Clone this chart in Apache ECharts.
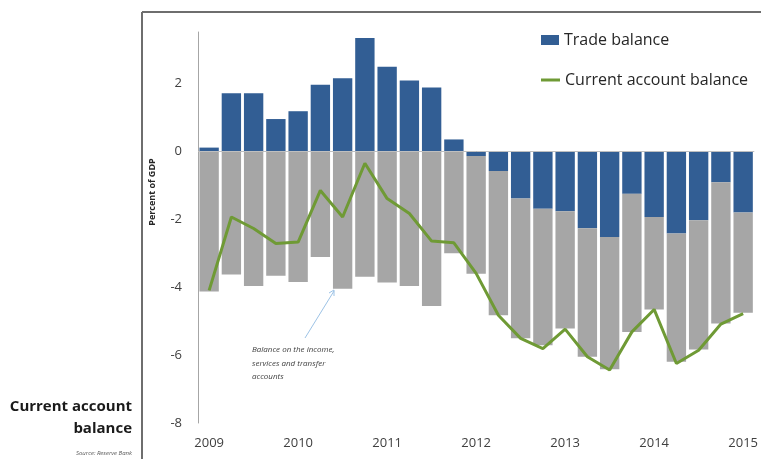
<!DOCTYPE html>
<html>
<head>
<meta charset="utf-8">
<script src="https://cdn.jsdelivr.net/npm/echarts@6/dist/echarts.min.js"></script>
<style>
  html, body { margin: 0; padding: 0; background: #fff; }
  #chart { width: 761px; height: 459px; }
</style>
</head>
<body>
<div id="chart"></div>
<script>
// quarters, 2009 Q1 .. 2015 Q1
const quarters = [
  "2009 Q1", "2009 Q2", "2009 Q3", "2009 Q4",
  "2010 Q1", "2010 Q2", "2010 Q3", "2010 Q4",
  "2011 Q1", "2011 Q2", "2011 Q3", "2011 Q4",
  "2012 Q1", "2012 Q2", "2012 Q3", "2012 Q4",
  "2013 Q1", "2013 Q2", "2013 Q3", "2013 Q4",
  "2014 Q1", "2014 Q2", "2014 Q3", "2014 Q4",
  "2015 Q1",
];

// percent of GDP
const tradeBalance = [
  0.1, 1.7, 1.7, 0.94, 1.17, 1.95, 2.14, 3.32, 2.48, 2.07, 1.87, 0.34,
  -0.15, -0.59, -1.4, -1.7, -1.77, -2.27, -2.53, -1.26, -1.94, -2.43, -2.04, -0.92, -1.81,
];

const incomeServicesTransfers = [
  -4.13, -3.63, -3.97, -3.67, -3.85, -3.12, -4.05, -3.7, -3.87, -3.97, -4.56, -3.01,
  -3.46, -4.24, -4.11, -4.01, -3.45, -3.78, -3.89, -4.06, -2.72, -3.77, -3.8, -4.15, -2.95,
];

const currentAccount = [
  -4.1, -1.94, -2.28, -2.72, -2.68, -1.16, -1.94, -0.36, -1.4, -1.84, -2.65, -2.7,
  -3.6, -4.83, -5.51, -5.81, -5.24, -6.05, -6.44, -5.32, -4.66, -6.25, -5.86, -5.09, -4.78,
];

const chart = echarts.init(document.getElementById("chart"));

const font = "'Open Sans', 'Noto Sans', sans-serif";
const blue = "#325e94";
const grey = "#a6a6a6";
const green = "#6f9a35";

const option = {
  animation: false,
  backgroundColor: "#fff",
  grid: {
    left: 198,
    right: 6,
    top: 32,
    bottom: 36,
  },
  legend: [
    {
      data: [{ name: "Trade balance", icon: "rect" }],
      left: 541,
      top: 32,
      padding: 0,
      itemWidth: 18,
      itemHeight: 10,
      textStyle: { color: "#262626", fontSize: 16, fontFamily: font },
    },
    {
      data: [{ name: "Current account balance", icon: "rect", itemStyle: { color: green } }],
      left: 541,
      top: 72,
      padding: 0,
      itemWidth: 19,
      itemHeight: 3,
      textStyle: { color: "#262626", fontSize: 16, fontFamily: font },
    },
  ],
  xAxis: {
    type: "category",
    data: quarters,
    axisLine: { show: false },
    axisTick: { show: false },
    axisLabel: {
      interval: 3,
      margin: 14,
      color: "#404040",
      fontSize: 13,
      fontFamily: font,
      formatter: (v) => v.slice(0, 4),
    },
  },
  yAxis: {
    type: "value",
    min: -8,
    max: 3.5,
    interval: 2,
    axisLine: { show: true, lineStyle: { color: "#a6a6a6", width: 1 } },
    axisTick: { show: false },
    splitLine: { show: false },
    axisLabel: {
      showMaxLabel: false,
      margin: 16,
      color: "#404040",
      fontSize: 13,
      fontFamily: font,
    },
  },
  series: [
    {
      name: "Trade balance",
      type: "bar",
      stack: "ca",
      data: tradeBalance,
      barCategoryGap: "13%",
      itemStyle: { color: blue },
      markLine: {
        silent: true,
        symbol: "none",
        label: { show: false },
        lineStyle: { color: "#bfbfbf", width: 1, type: "solid" },
        data: [{ yAxis: 0 }],
      },
    },
    {
      name: "Income, services and transfers",
      type: "bar",
      stack: "ca",
      data: incomeServicesTransfers,
      itemStyle: { color: grey },
    },
    {
      name: "Current account balance",
      type: "line",
      data: currentAccount,
      symbol: "none",
      itemStyle: { color: green },
      lineStyle: { color: green, width: 3 },
      z: 5,
    },
  ],
  graphic: [
    // frame lines
    { type: "line", shape: { x1: 142, y1: 12, x2: 761, y2: 12 }, style: { stroke: "#6e6e6e", lineWidth: 2 } },
    { type: "line", shape: { x1: 142, y1: 12, x2: 142, y2: 459 }, style: { stroke: "#6e6e6e", lineWidth: 2 } },
    {
      type: "text",
      x: 152,
      y: 192,
      rotation: Math.PI / 2,
      style: {
        text: "Percent of GDP",
        font: "bold 9px " + font,
        fill: "#262626",
        textAlign: "center",
        textVerticalAlign: "middle",
      },
    },
    // annotation
    { type: "line", shape: { x1: 305, y1: 338, x2: 334, y2: 291 }, style: { stroke: "#9dc3e6", lineWidth: 1 } },
    { type: "polyline", shape: { points: [[329, 293], [334, 290], [334, 296]] }, style: { stroke: "#9dc3e6", lineWidth: 1, fill: null } },
    {
      type: "text",
      x: 252,
      y: 343,
      style: {
        text: "Balance on the income,\nservices and transfer\naccounts",
        font: "italic 8px " + font,
        lineHeight: 13.5,
        fill: "#404040",
      },
    },
    // title and source
    {
      type: "text",
      x: 132,
      y: 396,
      style: {
        text: "Current account\nbalance",
        font: "bold 15px " + font,
        lineHeight: 22,
        fill: "#1a1a1a",
        textAlign: "right",
      },
    },
    {
      type: "text",
      x: 132,
      y: 450,
      style: {
        text: "Source: Reserve Bank",
        font: "italic 6px " + font,
        fill: "#595959",
        textAlign: "right",
      },
    },
  ],
};

chart.setOption(option);
</script>
</body>
</html>
